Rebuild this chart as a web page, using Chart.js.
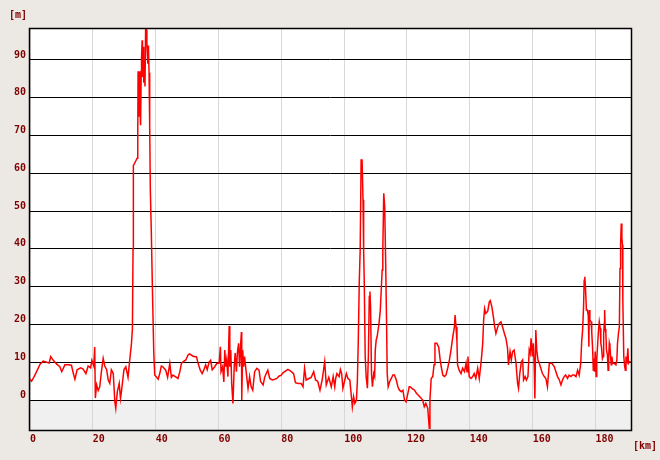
<!DOCTYPE html>
<html>
<head>
<meta charset="utf-8">
<script src="https://cdn.jsdelivr.net/npm/chart.js@4.4.1/dist/chart.umd.min.js"></script>
<style>
  html, body { margin: 0; padding: 0; background: #ece9e4; }
  #wrap { width: 660px; height: 460px; }
</style>
</head>
<body>
<div id="wrap"><canvas id="profile"></canvas></div>
<script>
// elevation profile: distance (km) and height (m)
const distKm = [
  0, 0.5, 1.2, 2.1, 3.2, 4.2, 5.3, 6.1, 6.6, 7.4, 8.5, 9.5, 10.1, 10.4, 11.1, 12.2, 13.2, 13.8, 14.3, 15,
  16.1, 16.9, 17.8, 18.5, 19.3, 19.7, 20.3, 20.6, 20.8, 21.2, 21.7, 22.2, 22.8, 23.3, 23.8, 24.4, 24.9, 25.4, 25.9, 26.5,
  27, 27.3, 27.8, 28.4, 28.8, 29.1, 29.9, 30.5, 31.2, 31.8, 32.3, 32.6, 32.8, 32.9, 33.5, 34.1, 34.3, 34.4, 34.6, 34.8,
  35, 35.2, 35.4, 35.5, 35.7, 35.8, 36, 36.2, 36.4, 36.6, 36.8, 37, 37.2, 37.5, 37.7, 37.9, 38.1, 38.3, 38.6, 39,
  39.4, 39.7, 40.3, 40.8, 41.3, 41.8, 42.3, 43.2, 43.8, 44.5, 45, 45.5, 46.6, 47.1, 47.7, 48.2, 48.7, 49.6, 50.3, 50.8,
  51.9, 53, 53.5, 54.2, 54.8, 55.3, 55.9, 56.4, 57, 57.5, 58, 58.8, 59.5, 60.2, 60.6, 60.8, 61.3, 61.7, 62, 62.3,
  62.6, 63, 63.4, 63.6, 63.9, 64.2, 64.6, 65, 65.3, 65.7, 66, 66.4, 66.7, 67.1, 67.3, 67.4, 67.7, 68, 68.3, 68.8, 69.4, 69.9, 70.4, 70.9,
  71.5, 72.2, 72.9, 73.4, 74.2, 74.7, 75.2, 75.7, 76.3, 77.1, 77.9, 78.6, 79.2, 80, 80.5, 81.4, 82.1, 83.2, 83.9, 84.5,
  85.3, 86.3, 86.9, 87.4, 87.9, 88.8, 89.5, 90.3, 90.9, 91.6, 92.3, 93, 93.8, 94.3, 95.1, 95.9, 96.5, 97, 97.3, 97.7,
  98.4, 98.8, 99.2, 99.6, 100.2, 100.7, 101.2, 101.8, 102.3, 102.6, 103, 103.4, 103.9, 104.2, 104.5, 104.8, 105.1, 105.4, 105.7, 106,
  106.2, 106.4, 106.7, 107, 107.4, 107.7, 108, 108.2, 108.4, 108.7, 109, 109.4, 109.7, 109.9, 110.2, 110.5, 111.1, 111.5, 111.8, 112.1,
  112.3, 112.6, 112.9, 113.2, 113.5, 113.7, 114, 114.5, 115, 115.5, 116, 116.6, 117.1, 117.6, 118.2, 118.7, 119.2, 119.7, 120.3, 120.7,
  121, 121.6, 122.4, 123, 124, 125, 125.5, 126, 126.6, 127.1, 127.3, 127.7, 128.2, 128.6, 128.9, 129.5, 130.1, 130.5, 130.9, 131.4,
  131.9, 132.4, 133, 133.5, 134, 134.5, 135.1, 135.3, 135.6, 135.9, 136.1, 136.6, 137.2, 137.7, 138.3, 138.8, 139.1, 139.4, 139.8, 140.4,
  140.9, 141.4, 141.9, 142.5, 143, 143.6, 144.1, 144.4, 144.7, 145.1, 145.7, 146.2, 146.5, 147, 147.5, 147.9, 148.3, 148.9, 149.4, 149.9,
  150.4, 151, 151.5, 152, 152.3, 152.8, 153.2, 153.6, 154.1, 154.7, 155.2, 155.5, 155.9, 156.4, 156.8, 157.1, 157.6, 158, 158.5, 158.9,
  159.2, 159.5, 159.9, 160.2, 160.5, 160.7, 161, 161.3, 161.7, 162.1, 162.6, 163.1, 163.7, 164.2, 164.7, 165.3, 166.1, 166.9, 167.4, 167.9,
  168.5, 169, 169.5, 170, 170.5, 171.1, 171.6, 172.2, 172.7, 173.2, 173.8, 174.3, 174.8, 175.3, 175.6, 175.9, 176.2, 176.4, 176.6, 176.8,
  177.1, 177.4, 177.7, 177.9, 178, 178.2, 178.6, 178.8, 179.1, 179.3, 179.5, 179.7, 179.9, 180.2, 180.4, 180.7, 181, 181.2, 181.5, 181.7,
  181.9, 182.2, 182.4, 182.6, 182.8, 182.9, 183.1, 183.3, 183.5, 183.8, 184, 184.2, 184.4, 184.6, 184.8, 185, 185.2, 185.5, 186, 186.5,
  186.8, 187, 187.3, 187.6, 187.8, 188, 188.2, 188.4, 188.6, 188.7, 189, 189.3, 189.5, 189.7, 190, 190.3, 190.5, 190.8, 191.2
];
const elevM = [
  5.5, 5, 6, 7.5, 9.5, 10.3, 10, 9.8, 11.5, 10.5, 9.5, 8.8, 7.5, 8, 9.3, 9.3, 9.2, 7, 5.5, 8,
  8.5, 8.2, 7, 9, 8.5, 10.5, 9, 14, 0.5, 4, 2.5, 3.5, 8, 11, 9, 8, 5.3, 4.4, 8, 7,
  -0.4, -2.2, 2.2, 4.4, 0.4, 2.2, 8, 8.8, 6, 11, 15, 19, 40, 62, 63, 64, 70, 87, 75, 87,
  77, 72.7, 87, 90.4, 95.2, 85.5, 93.5, 84, 89, 83, 98, 98, 94.5, 89, 93.8, 86.6, 72.3, 55.6, 45, 28,
  12.4, 6.6, 6, 5.5, 7, 9, 8.8, 7.9, 6, 9.7, 6, 6.6, 6, 5.7, 7.5, 9.7, 10.1, 10.6, 11.9, 12.2,
  11.6, 11.4, 9.7, 7.9, 7, 7.9, 9.3, 8, 10, 10.5, 8, 8.8, 9.7, 9.7, 14.1, 7.5, 8.8, 4.8, 13.2, 8.8,
  10.6, 6.2, 19.6, 8.8, 13.2, 4.4, -0.9, 8.8, 12.4, 7.5, 12.4, 15, 8.8, 15.4, 18, 0, 13.2, 8.8, 11.5, 7.5, 3.1, 6.2, 3.5, 2.6,
  7.5, 8.4, 7.9, 4.9, 4, 6, 7, 7.9, 5.7, 5.3, 5.5, 5.7, 6.3, 6.6, 7.2, 7.7, 8.1, 7.5, 7, 4.6,
  4.4, 4.4, 3.5, 8.4, 5.3, 5.7, 6, 7.5, 5.3, 4.9, 2.6, 5.3, 10.1, 4, 6, 3.5, 6.2, 3.5, 5.7, 7,
  6.2, 8.1, 7, 3.1, 5.3, 7, 5.7, 5.3, 0.9, -1.8, 0.9, -0.9, 0, 4.9, 15.9, 30.9, 39.7, 63.5, 63.5, 53,
  39.7, 30.9, 11.5, 6.2, 3.1, 11.5, 27.4, 28.7, 24.7, 7, 3.5, 7, 6.2, 13.2, 15.9, 16.8, 20.3, 23.8, 29.1, 34.4,
  39.7, 54.7, 51.2, 37, 20.3, 7, 3.5, 4.9, 5.7, 6.6, 6.6, 5.3, 3.5, 2.6, 2.2, 2.6, 0, -0.5, 1.8, 3.5,
  3.5, 3.1, 2.6, 1.8, 0.9, 0, -1.8, -0.9, -2.2, -7.5, 0, 5.7, 6.2, 9.3, 15, 15, 14, 11, 8.8, 6.6,
  6.2, 6.6, 8.6, 10.6, 13.2, 16.3, 19.4, 22.5, 19.4, 15.4, 9.3, 7.9, 7, 8.4, 7.5, 9.7, 7.5, 11.5, 6.2, 5.7,
  6.2, 7, 5.7, 8.4, 5.7, 10.1, 15, 21.2, 24.2, 22.9, 23.5, 26, 26.3, 24.7, 22, 19.4, 17.6, 19.4, 20.3, 20.7,
  19.4, 17.6, 16.3, 13.7, 9.3, 12.8, 10.6, 12.8, 13.2, 9.7, 4.4, 3.1, 7, 10.1, 10.6, 5.3, 6.2, 5.3, 6.2, 13.2,
  12.3, 16.3, 11.5, 15, 8.8, 0.4, 18.5, 13.2, 10.6, 9.7, 8.4, 7, 6.2, 5.7, 3.5, 9.7, 9.7, 8.8, 7.5, 6.2,
  5.3, 4, 5.3, 6.2, 6.6, 5.7, 6.6, 6.2, 6.6, 6.6, 6.2, 7.9, 6.6, 9.7, 15.4, 18.5, 24.7, 31.7, 32.6, 30,
  23.8, 23.8, 22.5, 14.1, 23.8, 21.2, 20.7, 18.1, 13.2, 7.9, 11, 7.5, 12.8, 6.2, 10.6, 15, 19, 20.7, 19, 15,
  14, 11, 11.5, 17.6, 20.3, 23.8, 18.8, 17.6, 13.2, 11.9, 7.9, 11.5, 15, 14.1, 11.5, 9.3, 11.5, 9.7, 9.7, 9.3,
  10.6, 15, 17.6, 19.4, 34.8, 41.4, 46.7, 42.8, 41, 26.5, 11.5, 8.8, 7.9, 11.5, 9.7, 13.7, 9.7, 10.1, 10.1
];

const xTicks = [0, 20, 40, 60, 80, 100, 120, 140, 160, 180];
const yTicks = [0, 10, 20, 30, 40, 50, 60, 70, 80, 90];

const LABEL_RED = '#800000';
const LABEL_FONT = { family: 'DejaVu Sans Mono', size: 10, weight: 'bold' };

// white plot area, grey band under sea level, black frame and unit labels
const profileBackdrop = {
  id: 'profileBackdrop',
  beforeDraw(chart) {
    const { ctx, chartArea: a, scales } = chart;
    const zero = scales.y.getPixelForValue(0);
    ctx.save();
    ctx.fillStyle = '#ffffff';
    ctx.fillRect(a.left, a.top, a.right - a.left, a.bottom - a.top);
    ctx.fillStyle = '#f0f0f0';
    ctx.fillRect(a.left, zero, a.right - a.left, a.bottom - zero);
    ctx.restore();
  },
  afterDraw(chart) {
    const { ctx, chartArea: a } = chart;
    ctx.save();
    ctx.strokeStyle = '#000';
    ctx.lineWidth = 1.5;
    ctx.strokeRect(Math.round(a.left) - 0.5, Math.round(a.top) - 0.5,
      Math.round(a.right - a.left) + 1, Math.round(a.bottom - a.top) + 1);
    ctx.fillStyle = LABEL_RED;
    ctx.font = 'bold 10px "DejaVu Sans Mono"';
    ctx.textBaseline = 'middle';
    ctx.textAlign = 'left';
    ctx.fillText('[m]', 9, 15);
    ctx.fillText('[km]', 633, 446);
    ctx.restore();
  }
};

new Chart(document.getElementById('profile'), {
  type: 'line',
  data: {
    datasets: [{
      data: distKm.map((d, i) => ({ x: d, y: elevM[i] })),
      borderColor: '#ff0000',
      borderWidth: 1.5,
      pointRadius: 0,
      tension: 0,
      fill: false
    }]
  },
  options: {
    responsive: true,
    maintainAspectRatio: false,
    animation: false,
    layout: { padding: { left: 0, top: 29, right: 29, bottom: 0 } },
    plugins: { legend: { display: false }, tooltip: { enabled: false } },
    scales: {
      x: {
        type: 'linear',
        min: 0,
        max: 191.3,
        afterBuildTicks: s => { s.ticks = xTicks.map(v => ({ value: v })); },
        afterFit: s => { s.height = 30; },
        border: { display: false },
        grid: { color: '#d8d8d8', lineWidth: 1, drawTicks: false },
        ticks: { align: 'start', autoSkip: false, maxRotation: 0, padding: 3, color: LABEL_RED, font: LABEL_FONT }
      },
      y: {
        min: -7.94,
        max: 98.2,
        afterBuildTicks: s => { s.ticks = yTicks.map(v => ({ value: v })); },
        afterFit: s => { s.width = 30; },
        border: { display: false },
        grid: { color: '#000000', lineWidth: 1, drawTicks: false },
        ticks: { padding: 4, labelOffset: -5, color: LABEL_RED, font: LABEL_FONT }
      }
    }
  },
  plugins: [profileBackdrop]
});
</script>
</body>
</html>
